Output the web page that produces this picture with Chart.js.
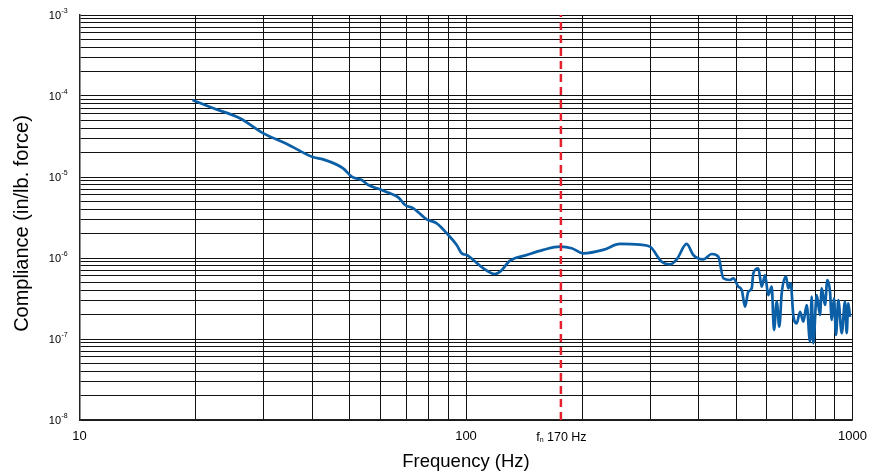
<!DOCTYPE html>
<html>
<head>
<meta charset="utf-8">
<script src="https://cdn.jsdelivr.net/npm/chart.js@4.4.1/dist/chart.umd.min.js"></script>
<style>
  html, body { margin: 0; padding: 0; background: #fff; }
  canvas { display: block; }
</style>
</head>
<body>
<canvas id="complianceChart" width="884" height="472"></canvas>
<script>
const freqHz = [19.6, 22.2, 26.0, 29.9, 34.4, 40.3, 42.7, 48.1, 50.6, 53.7,
  55.9, 59.9, 63.6, 66.8, 69.6, 73.1, 79.1, 84.0, 90.0, 94.6,
  97.5, 100.4, 104.4, 110.9, 118.9, 122.5, 130.0, 143.6, 158.5, 175.1,
  187.7, 201.2, 226.5, 250.3, 282, 299.3, 320.9, 337.2, 351, 372.4,
  387.3, 411.1, 432.2, 449.6, 463.2, 482.1, 491.7, 506.5, 516.9, 527.2,
  537.6, 548.6, 553.8, 570.6, 582.3, 593.8, 605.6, 618, 626.5, 636.7,
  646.6, 655.9, 672.9, 682.2, 692, 702.8, 717.2, 731.6, 746, 761.3,
  776.3, 784.2, 791.8, 808, 824, 832.4, 848.9, 860.7, 874.7, 883.6,
  895.7, 906.4, 919, 937.8, 956.3, 966, 975.2, 985.1];
const compliance = [8.93e-5, 7.05e-5, 5.31e-5, 3.46e-5, 2.56e-5, 1.75e-5, 1.65e-5, 1.28e-5, 1.01e-5, 9.18e-6,
  7.96e-6, 7.05e-6, 6.29e-6, 5.61e-6, 4.51e-6, 4.11e-6, 3.00e-6, 2.68e-6, 1.92e-6, 1.45e-6,
  1.14e-6, 1.09e-6, 9.45e-7, 7.46e-7, 6.35e-7, 6.78e-7, 9.26e-7, 1.09e-6, 1.26e-6, 1.38e-6,
  1.32e-6, 1.14e-6, 1.26e-6, 1.49e-6, 1.46e-6, 1.38e-6, 9.0e-7, 8.36e-7, 9.64e-7, 1.49e-6,
  1.09e-6, 9.64e-7, 1.12e-6, 1.04e-6, 5.62e-7, 5.35e-7, 5.62e-7, 4.42e-7, 4.03e-7, 2.51e-7,
  3.84e-7, 4.22e-7, 6.47e-7, 7.46e-7, 4.42e-7, 6.17e-7, 3.49e-7, 4.42e-7, 1.29e-7, 2.89e-7,
  1.42e-7, 3.67e-7, 5.88e-7, 4.22e-7, 4.87e-7, 1.98e-7, 1.56e-7, 2.17e-7, 1.64e-7, 2.63e-7,
  9.26e-8, 3.33e-7, 8.85e-8, 3.49e-7, 1.98e-7, 4.22e-7, 2.63e-7, 5.35e-7, 3.84e-7, 1.72e-7,
  3.18e-7, 1.12e-7, 3.03e-7, 1.18e-7, 2.89e-7, 1.18e-7, 2.76e-7, 1.88e-7];

// natural frequency marker
const fnHz = 176;
const fnText = ' 170 Hz';

// axis ticks
const xTickLabels = ['10', '100', '1000'];
const xDecades = [10, 100, 1000];
const yDecades = [1e-8, 1e-7, 1e-6, 1e-5, 1e-4, 1e-3];
const yExponents = ['-8', '-7', '-6', '-5', '-4', '-3'];
const xTitle = 'Frequency (Hz)';
const yTitle = 'Compliance (in/lb. force)';

const FONT = '"Liberation Sans", Arial, Helvetica, sans-serif';

// 1..9 grid lines in every decade
function decadeGrid(decades) {
  const out = [];
  for (let i = 0; i < decades.length - 1; i++) {
    for (let m = 1; m < 10; m++) out.push({ value: decades[i] * m });
  }
  out.push({ value: decades[decades.length - 1] });
  return out;
}

const labelPlugin = {
  id: 'axisLabels',
  afterDraw(chart) {
    const ctx = chart.ctx;
    const x = chart.scales.x;
    const y = chart.scales.y;
    ctx.save();
    ctx.fillStyle = '#000';

    // y ticks: 10 with superscript exponent
    yDecades.forEach((v, i) => {
      const py = y.getPixelForValue(v);
      ctx.font = '11px ' + FONT;
      ctx.textAlign = 'right';
      ctx.textBaseline = 'middle';
      ctx.fillText('10', 61, py + 1);
      ctx.font = '7px ' + FONT;
      ctx.textAlign = 'left';
      ctx.textBaseline = 'alphabetic';
      ctx.fillText(yExponents[i], 61.5, py - 2.5);
    });

    // x ticks
    ctx.font = '13px ' + FONT;
    ctx.textAlign = 'center';
    ctx.textBaseline = 'middle';
    xDecades.forEach((v, i) => {
      ctx.fillText(xTickLabels[i], x.getPixelForValue(v), 436);
    });

    // fn label with subscript
    ctx.font = '12.5px ' + FONT;
    const wf = ctx.measureText('f').width;
    const wRest = ctx.measureText(fnText).width;
    ctx.font = '7px ' + FONT;
    const wn = ctx.measureText('n').width;
    const cx = x.getPixelForValue(fnHz) + 0.5;
    let px = cx - (wf + wn + wRest) / 2;
    ctx.textAlign = 'left';
    ctx.textBaseline = 'alphabetic';
    ctx.font = '12.5px ' + FONT;
    ctx.fillText('f', px, 440.5);
    px += wf;
    ctx.font = '7px ' + FONT;
    ctx.fillText('n', px, 441.5);
    px += wn;
    ctx.font = '12.5px ' + FONT;
    ctx.fillText(fnText, px, 440.5);

    // axis titles
    ctx.font = '18.5px ' + FONT;
    ctx.textAlign = 'center';
    ctx.fillText(xTitle, (x.left + x.right) / 2, 467);

    ctx.translate(28, (y.top + y.bottom) / 2 + 6);
    ctx.rotate(-Math.PI / 2);
    ctx.font = '20px ' + FONT;
    ctx.fillText(yTitle, 0, 0);
    ctx.restore();
  }
};

document.addEventListener('DOMContentLoaded', function () {
  const ctx = document.getElementById('complianceChart');
  new Chart(ctx, {
    type: 'line',
    data: {
      datasets: [
        {
          label: 'fn',
          data: [{ x: fnHz, y: yDecades[0] }, { x: fnHz, y: yDecades[yDecades.length - 1] }],
          borderColor: '#e3202b',
          borderWidth: 2.5,
          borderDash: [8, 5],
          pointRadius: 0,
          fill: false
        },
        {
          label: 'Compliance',
          data: freqHz.map((f, i) => ({ x: f, y: compliance[i] })),
          borderColor: '#0b5fa6',
          borderWidth: 2.7,
          pointRadius: 0,
          cubicInterpolationMode: 'monotone',
          fill: false
        }
      ]
    },
    options: {
      responsive: false,
      animation: false,
      devicePixelRatio: 1,
      layout: { padding: { left: 0, top: 15, right: 31.5, bottom: 0 } },
      plugins: { legend: { display: false }, tooltip: { enabled: false } },
      scales: {
        x: {
          type: 'logarithmic',
          position: 'bottom',
          min: 10,
          max: 1000,
          afterBuildTicks: s => { s.ticks = decadeGrid(xDecades); },
          afterFit: s => { s.height = 52; },
          ticks: { display: false, autoSkip: false },
          grid: { color: '#111', lineWidth: 1, drawTicks: false },
          border: { color: '#222', width: 1.5 }
        },
        y: {
          type: 'logarithmic',
          min: 1e-8,
          max: 1e-3,
          afterBuildTicks: s => { s.ticks = decadeGrid(yDecades); },
          afterFit: s => { s.width = 79.5; },
          ticks: { display: false, autoSkip: false },
          grid: { color: '#111', lineWidth: 1, drawTicks: false },
          border: { color: '#222', width: 1.5 }
        }
      }
    },
    plugins: [labelPlugin]
  });
});
</script>
</body>
</html>
